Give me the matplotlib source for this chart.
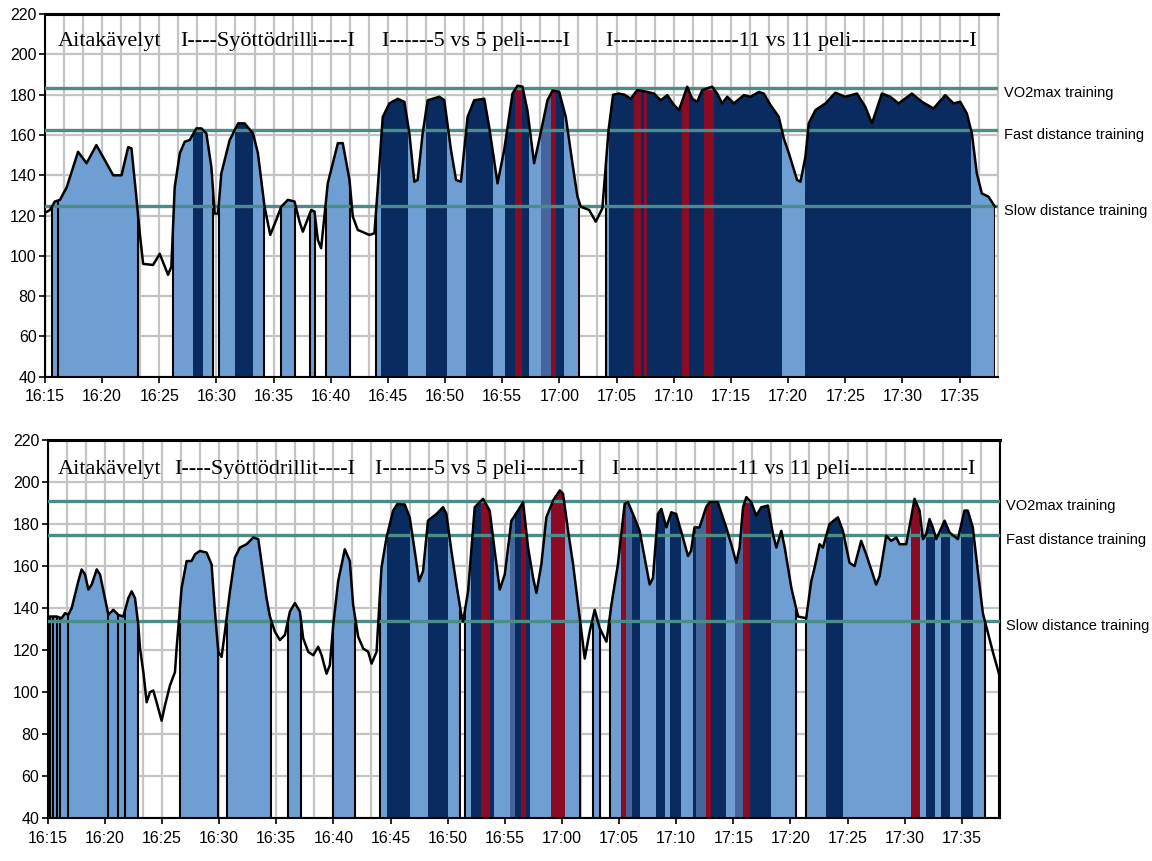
import numpy as np
import matplotlib
matplotlib.use('Agg')
import matplotlib.pyplot as plt
from matplotlib.patches import Polygon

# minutes after 16:15, heart rate (bpm)
up_t = [0.0, 0.44, 0.87, 1.31, 1.9, 2.9, 3.64, 4.5, 5.39, 5.97, 6.7, 7.28, 7.57, 8.0, 8.3, 8.59,
        9.46, 10.04, 10.77, 11.06, 11.35, 11.8, 12.23, 12.66, 13.25, 13.69, 14.12, 14.56, 14.85,
        15.14, 15.43, 16.16, 16.9, 17.47, 18.2, 18.63, 19.21, 19.71, 20.23, 20.67, 21.25, 21.83,
        22.27, 22.56, 23.29, 23.58, 23.87, 24.16, 24.74, 25.62, 26.05, 26.64, 26.93, 27.36, 28.38,
        28.82, 29.11, 29.55, 30.13, 30.86, 31.44, 31.88, 32.31, 32.6, 33.04, 33.48, 34.5, 34.93,
        35.52, 35.96, 36.39, 36.97, 37.55, 38.43, 38.86, 39.59, 40.17, 40.9, 41.34, 41.77, 42.2,
        42.79, 43.23, 43.96, 44.39, 44.98, 45.56, 46.14, 46.58, 46.87, 47.6, 48.18, 48.76, 49.3,
        49.7, 50.2, 50.7, 51.24, 51.8, 52.69, 53.28, 53.86, 54.44, 55.02, 55.46, 56.18, 56.62,
        57.06, 57.49, 58.36, 58.8, 59.24, 59.68, 60.26, 61.14, 61.72, 62.45, 62.88, 63.47, 64.19,
        64.63, 65.07, 65.79, 66.09, 66.52, 66.81, 67.4, 68.27, 69.14, 70.0, 71.03, 71.76, 72.34,
        73.21, 73.94, 74.67, 75.83, 76.71, 77.73, 78.75, 79.48, 80.06, 80.64, 81.08, 81.51, 81.95,
        82.53, 83.1]
up_hr = [121.3, 122.8, 127, 127.8, 134, 151.7, 146, 155, 146, 140, 140, 154, 153.4, 129, 111, 96,
         95.5, 101, 90.6, 94.7, 134, 151, 156.7, 157.5, 163.3, 163.3, 160.8, 144, 121,
         121, 141, 157.5, 165.8, 165.8, 160.8, 151, 124.4, 110.4, 117.8, 124.4, 127.8, 127,
         117, 112, 122.8, 122, 108, 103.8, 136, 155.9, 156, 137.7, 119.5, 112.9, 110.4,
         111.2, 133.5, 169, 175.7, 178, 176.5, 160.8, 136.8, 137.7, 160.8, 177.3, 179, 177.3,
         152.5, 137.7, 136.8, 169, 177.3, 178, 164, 136, 152.5, 180.6, 184.5, 184, 172.4,
         146, 157.5, 177.3, 182, 181.5, 169, 146, 129.4, 124.4, 122.8, 117, 123.6, 162.5,
         180, 180.6, 180, 178, 182.3, 181.4, 180.6, 177.3, 179.8, 174.9, 172.4, 184, 178,
         176.5, 182.3, 184, 180.6, 175.7, 179, 175.7, 179.8, 179, 181.4, 180.6, 174.9, 169,
         158.3, 151, 137.7, 136.8, 149.2, 165.8, 172.4, 175.7, 181, 179, 180.6, 174, 165.8,
         180.6, 179, 175.7, 180.6, 176.5, 173.2, 179.8, 175.7, 176.5, 170.7, 160.8, 141, 131,
         129.4, 124.4]
# zone of each stretch: 0 none, L slow distance, M mixed, N fast distance, R VO2max
up_edges = [0, 0.58, 8.1, 11.2, 12.96, 13.83, 14.7, 15.22, 16.6, 18.2, 19.2, 20.67, 21.9, 23.2,
            23.58, 24.6, 26.7, 28.97, 29.4, 31.73, 33.33, 35.2, 36.8, 39.15, 40.26, 41.13, 41.77,
            42.36, 43.38, 44.25, 44.69, 45.4, 46.72, 49.05, 49.34, 51.53, 52.1, 52.4, 52.69,
            55.75, 56.33, 57.64, 58.52, 64.48, 66.52, 81.0, 83.1]
up_zones = ['0', 'L', '0', 'L', 'N', 'L', '0', 'L', 'N', 'L', '0', 'L', '0', 'L',
            '0', 'L', '0', 'L', 'N', 'L', 'N', 'L', 'N', 'L', 'N', 'R',
            'N', 'L', 'M', 'R', 'N', 'L', '0', 'L', 'N', 'R', 'N', 'R',
            'N', 'R', 'N', 'R', 'N', 'L', 'N', 'L']
up_marks = [1.16]
up_limits = [183.5, 162.5, 125]

lo_t = [0.0, 0.79, 1.22, 1.52, 1.8, 2.1, 2.68, 2.97, 3.27, 3.56, 3.85, 4.29, 4.58, 5.01, 5.31,
        5.74, 6.18, 6.62, 7.06, 7.35, 7.64, 7.93, 8.08, 8.37, 8.66, 8.95, 9.24, 9.53, 9.97, 10.26,
        10.7, 11.14, 11.28, 11.72, 12.16, 12.59, 12.89, 13.32, 13.91, 14.34, 14.64, 14.93, 15.22,
        15.51, 15.95, 16.38, 16.82, 17.41, 17.99, 18.43, 18.86, 19.15, 19.45, 19.88, 20.32, 20.76,
        21.2, 21.63, 22.07, 22.36, 22.8, 23.24, 23.67, 23.97, 24.4, 24.69, 24.99, 25.42, 26.0,
        26.44, 26.73, 27.17, 27.61, 28.05, 28.34, 28.78, 29.21, 29.65, 30.23, 30.6, 31.25, 31.68,
        32.12, 32.5, 32.85, 33.28, 34.02, 34.6, 34.89, 35.33, 35.77, 36.2, 36.35, 36.79, 37.37,
        38.1, 38.68, 39.12, 39.56, 40.0, 40.58, 41.16, 41.6, 42.04, 42.48, 42.77, 43.2, 43.64,
        44.23, 44.81, 45.1, 45.54, 45.98, 46.56, 47.0, 47.43, 47.87, 48.31, 48.9, 49.33, 49.9,
        50.49, 50.78, 51.22, 51.8, 52.24, 52.68, 52.97, 53.4, 53.7, 54.14, 54.57, 55.0, 55.59,
        56.03, 56.3, 56.6, 57.04, 57.62, 57.92, 58.64, 59.38, 59.82, 60.26, 60.55, 60.85, 61.14,
        61.57, 62.0, 62.45, 63.03, 63.47, 63.77, 64.2, 64.5, 65.08, 65.67, 66.38, 66.82, 67.11,
        67.55, 67.84, 68.42, 69.15, 69.59, 70.17, 70.61, 71.19, 71.63, 72.5, 72.8, 73.38, 73.82,
        74.26, 74.55, 75.13, 75.57, 75.86, 76.3, 76.59, 76.88, 77.17, 77.46, 77.76, 78.49, 78.92,
        79.65, 80.23, 80.52, 80.96, 81.4, 81.84, 82.2, 82.71, 83.29]
lo_hr = [136, 136, 135.2, 137.6, 136.8, 140, 152.8, 158.4, 156, 148.8, 151.2, 158.4, 156, 144.8,
         136.8, 139.2, 136.8, 136, 144.8, 148, 144.8, 132, 120.8, 109.6, 95.2, 100, 100.8, 95.2,
         86.4, 93.6, 103.2, 109.6, 120.8, 149.6, 162.4, 162.4, 165.6, 167.2, 166.4, 160.8, 138.4,
         119.2, 116.8, 128.8, 148, 164, 168.8, 170.4, 173.6, 172.8, 156, 144.8, 136, 128.8,
         124.8, 127.2, 138.4, 142.4, 138.4, 125.6, 119.2, 117.6, 121.6, 117.6, 108.8, 112.8, 132,
         152.8, 168, 162.4, 141.6, 126.4, 120.8, 119.2, 113.6, 119.2, 159.2, 173.6, 186.4, 189.5,
         189.3, 183.2, 167.2, 152.8, 157.6, 181.6, 184.8, 188, 184.8, 167.2, 151.2, 136.8, 133.6,
         148, 188, 192, 186.4, 167.2, 148.8, 156, 181.6, 186.4, 190.4, 168.8, 154.4, 147.2, 160.8,
         183.2, 191.2, 196, 194.4, 176.8, 160.8, 135.2, 116, 128.8, 139.2, 130.4, 124, 141.6,
         160.8, 189.6, 190.4, 184.8, 176.8, 164, 151.2, 154.4, 184.8, 187.2, 178.4, 185.6, 184.8,
         173.6, 164.8, 167.2, 178.4, 178.4, 188, 190.4, 190.4, 178.4, 170.4, 161.6, 168.8, 188,
         192.8, 190.4, 184, 188, 188.8, 175.2, 168.8, 176.8, 168.8, 149.6, 136, 135.2, 152.8,
         159.2, 170.4, 168.8, 180, 183.2, 176.8, 161.6, 160, 172, 165.6, 151.2, 155.2, 174.4, 172,
         173.6, 170.4, 170.4, 183.2, 192, 186.4, 172.8, 175.2, 182.4, 178.4, 172.8, 181.6, 176,
         172.8, 186.4, 186.4, 178.4, 157.6, 137.6, 130, 119.2, 108]
lo_edges = [0, 7.93, 11.57, 14.93, 15.66, 19.5, 21.05, 22.13, 24.99, 26.88, 29.07, 29.65, 31.69,
            33.29, 35.04, 36.06, 36.5, 37.08, 37.96, 38.69, 39.1, 40.43, 40.87, 41.45, 41.9,
            42.18, 44.08, 45.24, 46.56, 47.72, 48.31, 49.18, 50.2, 50.64, 51.1, 51.8, 53.26,
            53.99, 54.43, 55.45, 56.47, 56.77, 57.64, 58.07, 59.38, 60.11, 60.85, 61.43, 63.3,
            65.5, 66.38, 68.13, 69.6, 75.57, 76.3, 76.88, 77.61, 78.19, 78.92, 79.94, 80.96,
            82.0, 83.29]
lo_zones = ['L', '0', 'L', '0', 'L', '0', 'L', '0', 'L', '0', 'L', 'N',
            'L', 'N', 'L', '0', 'L', 'N', 'R', 'N', 'L', 'M', 'N', 'R',
            'N', 'L', 'R', 'L', '0', 'L', '0', 'L', 'R', 'M', 'N', 'L',
            'N', 'L', 'N', 'L', 'N', 'M', 'R', 'N', 'L', 'M', 'R', 'N',
            'L', '0', 'L', 'N', 'L', 'R', 'L', 'N', 'L', 'N', 'L', 'N',
            'L', '0']
lo_marks = [0.2, 0.5, 0.79, 1.08, 1.8, 5.3, 6.18, 6.76]
lo_limits = [191, 175, 134]

limit_names = ['VO2max training', 'Fast distance training', 'Slow distance training']
x_labels = ['16:15', '16:20', '16:25', '16:30', '16:35', '16:40', '16:45', '16:50', '16:55',
            '17:00', '17:05', '17:10', '17:15', '17:20', '17:25', '17:30', '17:35']
up_phases = [(1.14, 'Aitakävelyt'), (11.8, 'I----Syöttödrilli----I'),
             (29.5, 'I------5 vs 5 peli-----I'),
             (49.1, 'I-----------------11 vs 11 peli----------------I')]
lo_phases = [(0.9, 'Aitakävelyt'), (11.1, 'I----Syöttödrillit----I'),
             (28.6, 'I-------5 vs 5 peli-------I'),
             (49.4, 'I----------------11 vs 11 peli----------------I')]

COLORS = {'L': '#6f9fd2', 'M': '#45659b', 'N': '#0a2b60', 'R': '#8b0b24'}
SANS = ['Liberation Sans', 'DejaVu Sans']


def draw_panel(ax, t, hr, edges, zones, marks, limits, phases):
    assert len(edges) == len(zones) + 1 and len(t) == len(hr)
    ax.set_xlim(0, 83.3)
    ax.set_ylim(40, 220)

    # area under the curve, used to clip the coloured bands
    xy = np.column_stack([[t[0]] + list(t) + [t[-1]], [40] + list(hr) + [40]])
    area = Polygon(xy, closed=True, transform=ax.transData)

    for x0, x1, z in zip(edges[:-1], edges[1:], zones):
        if z == '0':
            continue
        band = ax.axvspan(x0, x1, color=COLORS[z], lw=0, zorder=1)
        band.set_clip_path(area)

    cuts = list(marks) + [t[0], t[-1]]
    for i in range(1, len(edges) - 1):
        if zones[i - 1] == '0' or zones[i] == '0':
            cuts.append(edges[i])
    for x in cuts:
        ln = ax.axvline(x, color='black', lw=1.5, zorder=2)
        ln.set_clip_path(area)

    for v in limits:
        ax.axhline(v, color='#4a8c86', lw=2.4, zorder=3)
    ax.plot(t, hr, color='black', lw=1.8, zorder=4, solid_joinstyle='round')

    for v, name in zip(limits, limit_names):
        ax.text(83.9, v - 2.5, name, family=SANS, fontsize=10.5, va='center', clip_on=False)
    for x, s in phases:
        ax.text(x, 204, s, family='Liberation Serif', fontsize=16, va='baseline', zorder=5)

    ax.set_xticks(np.arange(0, 81, 5))
    ax.set_xticklabels(x_labels, family=SANS, fontsize=11.5)
    ax.set_xticks(np.arange(0, 84, 5 / 3), minor=True)
    ax.set_yticks(np.arange(40, 221, 20))
    ax.set_yticklabels([str(v) for v in range(40, 221, 20)], family=SANS, fontsize=11.5)
    ax.set_axisbelow(True)
    ax.grid(axis='x', which='both', color='#c4c4c4', lw=1.6)
    ax.grid(axis='y', which='major', color='#c4c4c4', lw=1.6)
    ax.tick_params(which='minor', length=0)
    ax.tick_params(axis='y', which='major', length=4, width=1.2, pad=2)
    ax.tick_params(axis='x', which='major', length=4, width=1.2, pad=5)
    for side in ['left', 'bottom']:
        ax.spines[side].set_linewidth(1.5)
    ax.spines['top'].set_linewidth(2.2)
    ax.spines['right'].set_color('#c4c4c4')


fig = plt.figure(figsize=(11.52, 8.61), dpi=100)
ax1 = fig.add_axes([0.039, 0.5625, 0.827, 0.421])
ax2 = fig.add_axes([0.0414, 0.0496, 0.8266, 0.4394])
draw_panel(ax1, up_t, up_hr, up_edges, up_zones, up_marks, up_limits, up_phases)
draw_panel(ax2, lo_t, lo_hr, lo_edges, lo_zones, lo_marks, lo_limits, lo_phases)
ax2.spines['right'].set_color('black')
ax2.spines['right'].set_linewidth(1.5)
fig.savefig('out.png', dpi=100)
